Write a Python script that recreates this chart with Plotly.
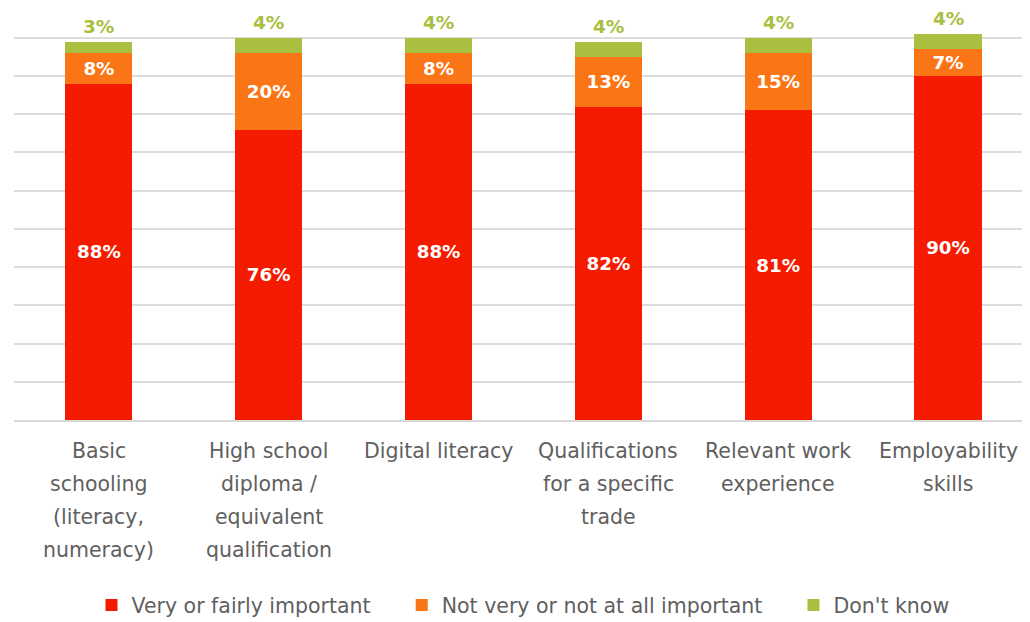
import plotly.graph_objects as go

categories = [
    "Basic<br>schooling<br>(literacy,<br>numeracy)",
    "High school<br>diploma /<br>equivalent<br>qualification",
    "Digital literacy",
    "Qualifications<br>for a specific<br>trade",
    "Relevant work<br>experience",
    "Employability<br>skills",
]
important = [88, 76, 88, 82, 81, 90]
not_important = [8, 20, 8, 13, 15, 7]
dont_know = [3, 4, 4, 4, 4, 4]

series_names = ["Very or fairly important", "Not very or not at all important", "Don't know"]
colors = ["#f51b00", "#fa7515", "#a8bf3f"]

FONT = "DejaVu Sans"
GAP = "\u00a0" * 4  # extra room between legend entries
fig = go.Figure()

# bottom two segments carry white labels inside
for name, vals, col in zip(series_names[:2], [important, not_important], colors[:2]):
    fig.add_trace(go.Bar(
        x=categories, y=vals, name=name + GAP,
        marker=dict(color=col, line=dict(width=0)),
        width=0.395, text=[f"{v}%" for v in vals], textposition="inside",
        insidetextanchor="middle", textangle=0,
        textfont=dict(family=FONT, size=18.5, color="white", weight="bold"),
    ))

fig.add_trace(go.Bar(
    x=categories, y=dont_know, name=series_names[2],
    marker=dict(color=colors[2], line=dict(width=0)), width=0.395,
))

# "don't know" labels float above each bar
for cat, a, b, c in zip(categories, important, not_important, dont_know):
    fig.add_annotation(
        x=cat, y=a + b + c, text=f"<b>{c}%</b>", showarrow=False,
        yanchor="bottom", yshift=3,
        font=dict(family=FONT, size=18.5, color=colors[2]),
    )

# category labels as stacked lines for wider line spacing
for cat in categories:
    for i, line in enumerate(cat.split("<br>")):
        fig.add_annotation(
            x=cat, y=0, xref="x", yref="paper", yanchor="top",
            text=line, showarrow=False, yshift=-17 - 33 * i,
            font=dict(family=FONT, size=20.5, color="#606060"),
        )

# page body adds an 8px offset, margins compensate
fig.update_layout(
    width=1030, height=622,
    margin=dict(l=6, r=0, t=26, b=210),
    barmode="stack",
    paper_bgcolor="white", plot_bgcolor="white",
    uniformtext=dict(mode="show", minsize=10),
    showlegend=True,
    legend=dict(
        orientation="h", x=0.5, xanchor="center", xref="container",
        y=0.04, yanchor="middle", yref="container",
        font=dict(family=FONT, size=20.5, color="#606060"),
        itemwidth=30, traceorder="normal",
    ),
    xaxis=dict(range=[-0.5, 5.53], showticklabels=False, showgrid=False,
               showline=True, linecolor="#d9d9d9", linewidth=2, ticks=""),
    yaxis=dict(range=[0, 101], tickvals=list(range(0, 101, 10)),
               showticklabels=False, showgrid=True, gridcolor="#dcdcdc",
               gridwidth=2, zeroline=False),
)

fig.write_html("out.html")
